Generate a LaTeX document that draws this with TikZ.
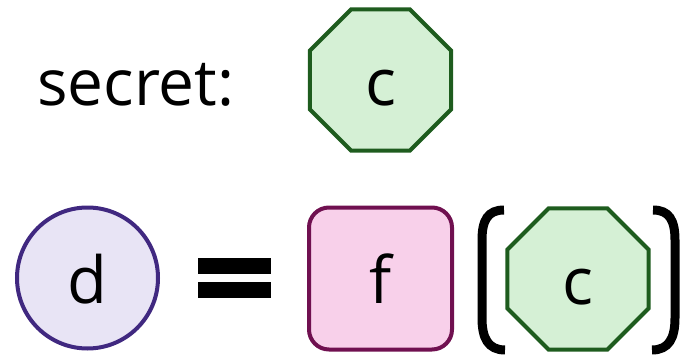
\documentclass[tikz,border=0pt]{standalone}
\usepackage{fontspec}
\setmainfont{Open Sans}
\usetikzlibrary{shapes.geometric}
\definecolor{octfill}{RGB}{213,240,213}
\definecolor{octdraw}{RGB}{30,92,30}
\definecolor{cirfill}{RGB}{232,228,245}
\definecolor{cirdraw}{RGB}{64,40,128}
\definecolor{sqfill}{RGB}{248,208,234}
\definecolor{sqdraw}{RGB}{112,16,80}
\begin{document}
\begin{tikzpicture}[x=1pt,y=-1pt,
  bigtext/.style={font=\fontsize{65}{78}\selectfont},
  lbl/.style={bigtext, text height=50pt, text depth=0pt, line width=4pt, inner sep=0pt},
  octnode/.style={lbl, regular polygon, regular polygon sides=8, minimum size=153pt, draw=octdraw, fill=octfill},
  cirnode/.style={lbl, circle, minimum size=141pt, draw=cirdraw, fill=cirfill},
  sqnode/.style={lbl, rectangle, rounded corners=20pt, minimum width=143pt, minimum height=142pt, draw=sqdraw, fill=sqfill},
  paren/.style={line width=9pt, line cap=butt},
  bar/.style={fill=black}]
\useasboundingbox (0,0) rectangle (694,356);
\node[font=\fontsize{64}{76}\selectfont, anchor=base west, inner sep=0pt] (secret) at (37,105) {secret:};
\node[octnode] (c1) at (380.5,80) {c};
\node[cirnode] (d) at (87.5,278) {d};
\fill[bar] (198,258) rectangle (271,274);
\fill[bar] (198,282) rectangle (271,298);
\node[sqnode] (f) at (380.5,278.5) {f};
\draw[paren] (504,210) .. controls (488,210) and (482,220) .. (482,240) -- (482,318) .. controls (482,338) and (488,350) .. (505,350);
\node[octnode] (c2) at (578,279) {c};
\draw[paren] (653,210) .. controls (669,210) and (675,220) .. (675,240) -- (675,318) .. controls (675,338) and (669,350) .. (652,350);
\end{tikzpicture}
\end{document}
